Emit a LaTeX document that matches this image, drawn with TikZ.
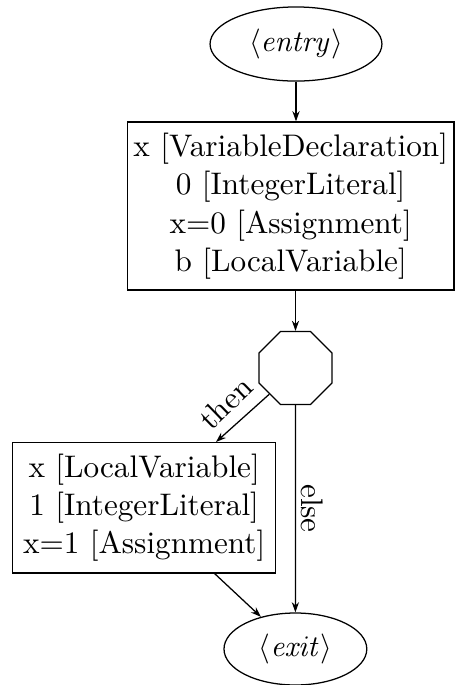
\documentclass[tikz,border=0pt]{standalone}
\usetikzlibrary{shapes.geometric,arrows.meta}
\begin{document}
\begin{tikzpicture}[x=0.33333pt,y=-0.33333pt,
  every path/.style={line width=0.42pt},
  edge/.style={draw,-{Stealth[length=3.4pt,width=2.4pt]}},
  term/.style={draw,ellipse,inner sep=0pt,font=\fontsize{10.4}{12.8}\selectfont},
  blockbox/.style={draw,rectangle,align=center,inner sep=0pt,font=\fontsize{10.4}{12.8}\selectfont},
  cond/.style={draw,regular polygon,regular polygon sides=8,inner sep=0pt,minimum size=26.3pt},
  lbl/.style={inner sep=0pt,font=\fontsize{10.4}{12.8}\selectfont}]
\useasboundingbox (0,0) rectangle (456,685);
\node[term,minimum width=57.3pt,minimum height=24.7pt] (entry) at (296,44) {$\langle \mathit{entry}\rangle$};
\node[blockbox,minimum width=108.9pt,minimum height=56pt] (b1) at (290.7,206)
  {x [VariableDeclaration]\\0 [IntegerLiteral]\\x=0 [Assignment]\\b [LocalVariable]};
\node[cond] (oct) at (295.5,368) {};
\node[blockbox,minimum width=87.7pt,minimum height=43.5pt] (b2) at (144.2,507.7)
  {x [LocalVariable]\\1 [IntegerLiteral]\\x=1 [Assignment]};
\node[term,minimum width=47.6pt,minimum height=24pt] (exit) at (295.4,649) {$\langle \mathit{exit}\rangle$};
\coordinate (t2) at (216,442);
\coordinate (s2) at (214,573);
\path[edge] (entry.south) -- (entry.south |- b1.north);
\path[edge] (oct.north |- b1.south) -- (oct.north);
\path[edge] (oct.225) -- (t2);
\path[edge] (oct.south) -- (exit.north);
\path[edge] (s2) -- (exit.137);
\node[lbl,rotate=44] (thenlbl) at (225.5,403) {then};
\node[lbl,rotate=-90] (elselbl) at (312.5,508.5) {else};
\end{tikzpicture}
\end{document}
